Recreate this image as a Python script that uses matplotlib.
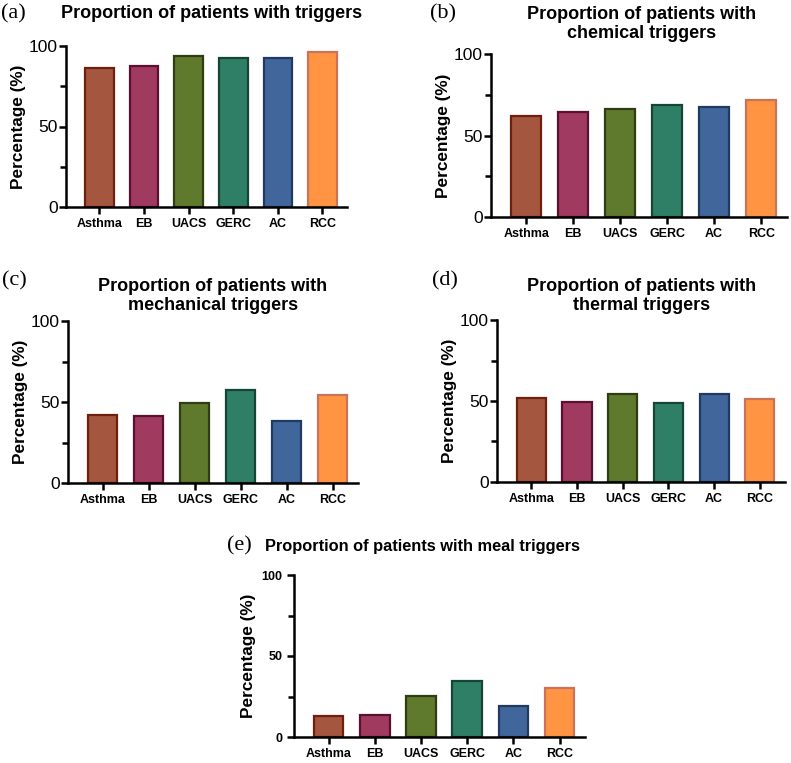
import matplotlib.pyplot as plt
from matplotlib.ticker import MultipleLocator

plt.rcParams['font.family'] = ['Liberation Sans', 'DejaVu Sans']

groups = ['Asthma', 'EB', 'UACS', 'GERC', 'AC', 'RCC']
fill_colors = ['#A4573E', '#A03A5E', '#5F7A2D', '#2F7F67', '#41669B', '#FF9443']
edge_colors = ['#6E1F0E', '#5A1030', '#2F3E12', '#144535', '#213A60', '#C9735A']

# values (%)
any_triggers = [86.5, 87.8, 94.0, 92.5, 92.5, 96.3]
chemical = [61.7, 64.3, 66.2, 68.9, 67.2, 71.5]
mechanical = [41.8, 41.4, 49.2, 57.2, 38.5, 54.1]
thermal = [52.1, 49.4, 54.1, 48.8, 54.5, 51.0]
meal = [12.8, 13.4, 25.5, 34.6, 19.3, 30.2]

W, H = 791, 763
fig = plt.figure(figsize=(W / 100, H / 100), dpi=100)


def px_axes(left, right, top, bottom):
    # pixel box -> figure fraction
    return fig.add_axes([left / W, 1 - bottom / H, (right - left) / W, (bottom - top) / H])


def bar_panel(ax, values, small=False):
    x = range(len(groups))
    ax.bar(x, values, width=0.64, color=fill_colors, edgecolor=edge_colors, linewidth=1.6, zorder=2)
    ax.set_ylim(0, 100)
    ax.set_xlim(-0.75, 5.55)
    ax.set_xticks(list(x))
    ax.set_xticklabels(groups, fontweight='bold', fontsize=9)
    ax.yaxis.set_major_locator(MultipleLocator(50))
    ax.yaxis.set_minor_locator(MultipleLocator(25))
    for s in ['top', 'right']:
        ax.spines[s].set_visible(False)
    for s in ['left', 'bottom']:
        ax.spines[s].set_linewidth(1.8)
    ax.tick_params(axis='both', which='major', width=1.8, length=5)
    ax.tick_params(axis='y', which='minor', width=1.8, length=4)
    ax.tick_params(axis='x', pad=3)
    if small:
        ax.tick_params(axis='y', labelsize=9)
        for t in ax.get_yticklabels():
            t.set_fontweight('bold')
        ax.set_ylabel('Percentage (%)', fontweight='bold', fontsize=12.4, labelpad=4)
    else:
        ax.tick_params(axis='y', labelsize=12.5, pad=1)
        ax.set_ylabel('Percentage (%)', fontweight='bold', fontsize=12.4, labelpad=2)


ax_a = px_axes(66, 347, 46, 207)
bar_panel(ax_a, any_triggers)
ax_b = px_axes(491, 787, 54, 217)
bar_panel(ax_b, chemical)
ax_c = px_axes(68, 358, 321, 483)
bar_panel(ax_c, mechanical)
ax_d = px_axes(497, 785, 320, 482)
bar_panel(ax_d, thermal)
ax_e = px_axes(294, 585, 575, 737)
bar_panel(ax_e, meal, small=True)

title_kw = dict(fontweight='bold', fontsize=13, ha='center', va='center', linespacing=1.15)
label_kw = dict(family=['Liberation Serif', 'DejaVu Serif'], fontsize=16, va='center')

fig.text(212 / W, 1 - 13 / H, 'Proportion of patients with triggers', **title_kw)
fig.text(1 / W, 1 - 14 / H, '(a)', **label_kw)
fig.text(642 / W, 1 - 24 / H, 'Proportion of patients with\nchemical triggers', **title_kw)
fig.text(430 / W, 1 - 14 / H, '(b)', **label_kw)
fig.text(213 / W, 1 - 296 / H, 'Proportion of patients with\nmechanical triggers', **title_kw)
fig.text(2 / W, 1 - 281 / H, '(c)', **label_kw)
fig.text(642 / W, 1 - 296 / H, 'Proportion of patients with\nthermal triggers', **title_kw)
fig.text(432 / W, 1 - 281 / H, '(d)', **label_kw)
fig.text(265 / W, 1 - 547 / H, 'Proportion of patients with meal triggers', fontweight='bold',
         fontsize=11.8, ha='left', va='center')
fig.text(227 / W, 1 - 546 / H, '(e)', **label_kw)

fig.savefig('out.png', dpi=100)
